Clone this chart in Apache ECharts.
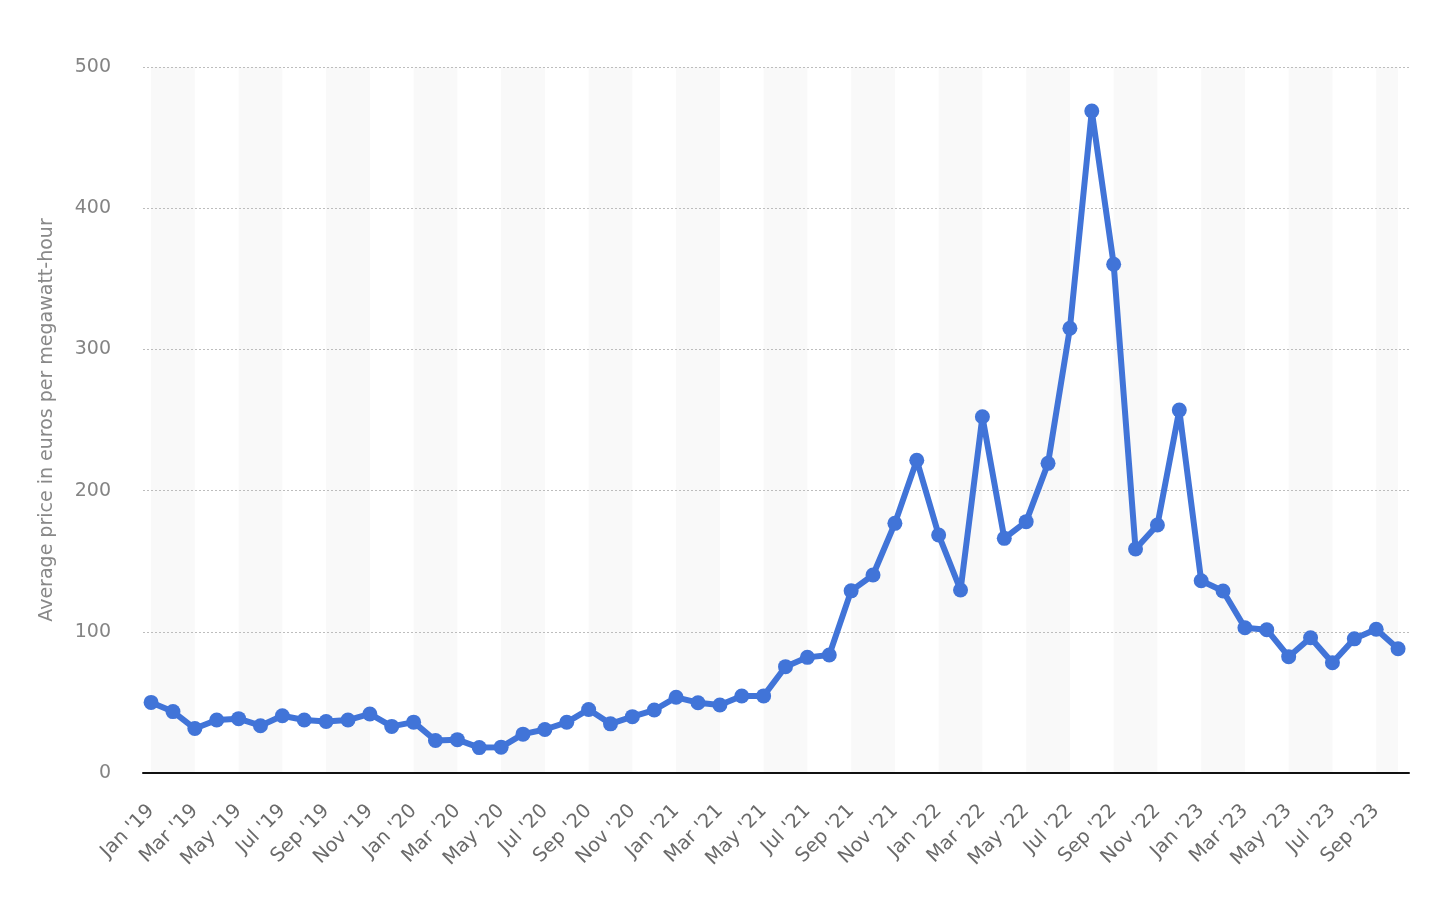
<!DOCTYPE html>
<html>
<head>
<meta charset="utf-8">
<script src="https://cdn.jsdelivr.net/npm/echarts@6/dist/echarts.min.js"></script>
<style>html,body{margin:0;padding:0;background:#fff}#c{width:1432px;height:900px}</style>
</head>
<body>
<div id="c"></div>
<script>
var months = ['Jan','Feb','Mar','Apr','May','Jun','Jul','Aug','Sep','Oct','Nov','Dec'];
var startYear = 2019;
var categories = [];
for (var i = 0; i < 58; i++) {
  categories.push(months[i % 12] + " '" + String(startYear + Math.floor(i / 12)).slice(2));
}
var prices = [
  50, 43.5, 31.5, 37.5, 38.5, 33.5, 40.5, 37.5, 36.5, 37.5, 41.8, 33,
  36, 23, 23.6, 18, 18.3, 27.5, 30.8, 35.9, 45, 34.8, 39.9, 44.6,
  53.6, 49.8, 48.2, 54.5, 54.6, 75.3, 81.9, 83.6, 129, 140.2, 176.8, 221.5,
  168.6, 129.6, 252.3, 166.2, 178, 219.3, 315, 468.8, 360.3, 158.6, 175.6, 257,
  136.2, 128.9, 102.9, 101.5, 82.4, 95.8, 78.1, 95, 101.8, 88
];
var yTicks = [0, 100, 200, 300, 400, 500];
var yTitle = 'Average price in euros per megawatt-hour';

var seriesData = prices.map(function (v, i) { return [i, v]; });
var labelIdx = [];
for (var k = 0; k < categories.length; k += 2) labelIdx.push(k);
var bands = [];
for (var b = 0; b < categories.length - 1; b += 4) {
  bands.push([{ xAxis: b }, { xAxis: Math.min(b + 2, categories.length - 1) }]);
}

var FONT = 'DejaVu Sans';
var chart = echarts.init(document.getElementById('c'), null, { renderer: 'canvas' });
chart.setOption({
  animation: false,
  backgroundColor: '#ffffff',
  grid: { left: 143, right: 23, top: 67, bottom: 127, containLabel: false },
  xAxis: {
    type: 'value',
    min: -0.37,
    max: categories.length - 1 + 0.5,
    z: 6,
    axisLine: { show: true, lineStyle: { color: '#111', width: 2 } },
    axisTick: { show: false },
    splitLine: { show: false },
    axisLabel: {
      customValues: labelIdx,
      rotate: 45,
      margin: 35,
      color: '#6a6a6a',
      fontSize: 19.5,
      fontFamily: FONT,
      formatter: function (v) { return categories[Math.round(v)]; }
    }
  },
  yAxis: {
    type: 'value',
    min: yTicks[0],
    max: yTicks[yTicks.length - 1],
    interval: 100,
    z: 4,
    name: yTitle,
    nameLocation: 'middle',
    nameGap: 86,
    nameTextStyle: { color: '#888', fontSize: 19, fontFamily: FONT },
    axisLine: { show: false },
    axisTick: { show: false },
    axisLabel: { color: '#848484', fontSize: 19, fontFamily: FONT, margin: 32 },
    splitLine: { show: true, lineStyle: { color: '#bdbdbd', type: [2, 2], width: 1 } }
  },
  series: [{
    type: 'line',
    data: [],
    z: 1,
    silent: true,
    markArea: {
      silent: true,
      itemStyle: { color: '#f9f9f9' },
      data: bands
    }
  }, {
    type: 'line',
    data: seriesData,
    symbol: 'circle',
    symbolSize: 15,
    lineStyle: { color: '#4174d8', width: 6 },
    itemStyle: { color: '#4174d8' },
    z: 10
  }]
});
</script>
</body>
</html>
